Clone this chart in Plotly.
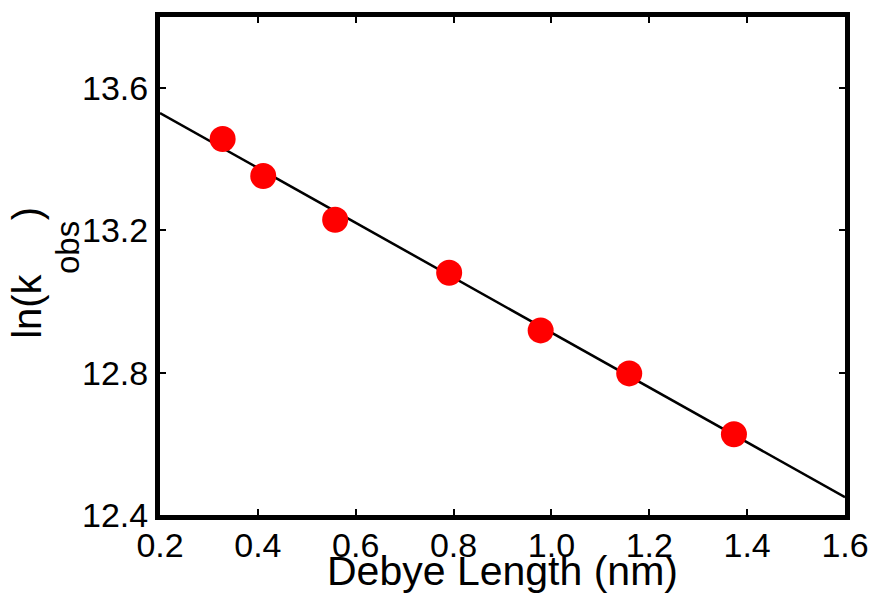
import plotly.graph_objects as go

# Data
debye_length = [0.328, 0.411, 0.558, 0.791, 0.978, 1.159, 1.373]
ln_kobs = [13.457, 13.353, 13.230, 13.081, 12.919, 12.798, 12.627]

fit_x = [0.2, 1.6]
fit_y = [13.530, 12.450]

x_ticks = [0.2, 0.4, 0.6, 0.8, 1.0, 1.2, 1.4, 1.6]
x_tick_text = ["0.2", "0.4", "0.6", "0.8", "1.0", "1.2", "1.4", "1.6"]
y_ticks = [12.4, 12.8, 13.2, 13.6]
y_tick_text = ["12.4", "12.8", "13.2", "13.6"]

x_title = "Debye Length (nm)"
y_title_main = "ln(k"
y_title_sub = "obs"
y_title_end = ")"

font_family = "Liberation Sans, Arial, Helvetica, sans-serif"

fig = go.Figure()
fig.add_trace(go.Scatter(
    x=fit_x, y=fit_y, mode="lines",
    line=dict(color="black", width=2.5),
    showlegend=False, hoverinfo="skip",
))
fig.add_trace(go.Scatter(
    x=debye_length, y=ln_kobs, mode="markers",
    marker=dict(color="#ff0000", size=26, line=dict(width=0)),
    showlegend=False,
))

axis_common = dict(
    showgrid=False, zeroline=False,
    showline=True, linecolor="black", linewidth=5, mirror="ticks",
    ticks="inside", ticklen=6, tickwidth=2, tickcolor="black",
    tickfont=dict(size=34),
)

H = 500.0  # plot height in px (601 - 15 - 86)
def py(pixel_y):
    return (515 - pixel_y) / H

fig.update_layout(
    width=881, height=601,
    margin=dict(l=160, r=32, t=15, b=86),
    paper_bgcolor="white", plot_bgcolor="white",
    font=dict(family=font_family, color="black", size=34),
    xaxis=dict(range=[0.2, 1.6], tickvals=x_ticks, ticktext=x_tick_text,
               ticklabelposition="outside", ticklabelstandoff=-4, **axis_common),
    yaxis=dict(range=[12.4, 13.8], tickvals=y_ticks, ticktext=y_tick_text,
               **axis_common),
    annotations=[
        dict(text=x_title, xref="paper", yref="paper", x=0.5, y=0,
             xanchor="center", yanchor="top", yshift=-31, showarrow=False,
             font=dict(size=41)),
        dict(text=y_title_main, xref="paper", yref="paper", x=0, y=py(306),
             xanchor="center", yanchor="middle", xshift=27 - 160, showarrow=False,
             textangle=-90, font=dict(size=40)),
        dict(text=y_title_sub, xref="paper", yref="paper", x=0, y=py(247),
             xanchor="center", yanchor="middle", xshift=67 - 160, showarrow=False,
             textangle=-90, font=dict(size=33)),
        dict(text=y_title_end, xref="paper", yref="paper", x=0, y=py(213),
             xanchor="center", yanchor="middle", xshift=27 - 160, showarrow=False,
             textangle=-90, font=dict(size=40)),
    ],
)

fig.write_html("out.html")
